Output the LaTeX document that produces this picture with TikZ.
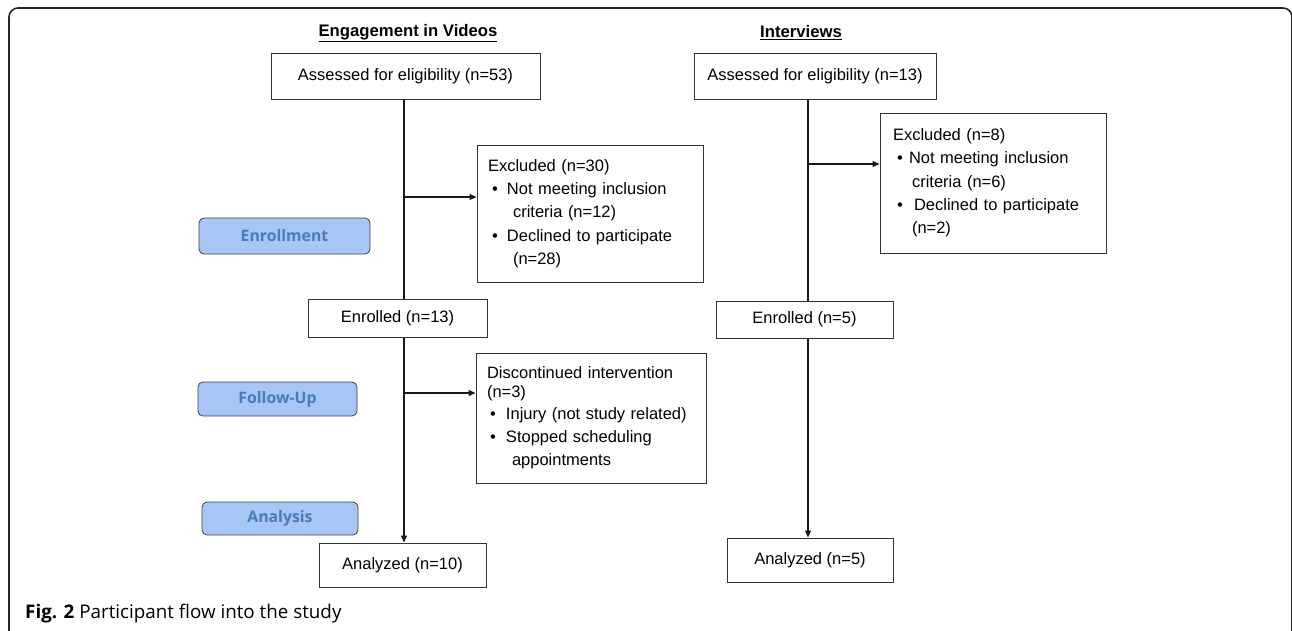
\documentclass[tikz,border=0pt]{standalone}
\usepackage{fontspec}
\setmainfont{Liberation Sans}
\newfontfamily\capfont{Open Sans}
\usetikzlibrary{arrows.meta,calc}
\definecolor{btnfill}{HTML}{A6C6F6}
\definecolor{btntext}{HTML}{4A7DB8}
\definecolor{edge}{HTML}{333333}
\newcommand\fs{\fontsize{16.5}{23.3}\selectfont}
\newcommand\bul[2]{\hspace*{#1pt}\makebox[#2pt][l]{\textbullet}}
\begin{document}
\begin{tikzpicture}[x=1pt,y=-1pt,
  box/.style={draw=edge, line width=1pt, inner sep=0pt, font=\fs},
  tbox/.style={box, align=left},
  btn/.style={draw=black!75, fill=btnfill, rounded corners=5pt, line width=0.8pt,
    text=btntext, font=\capfont\bfseries\fontsize{15.8}{18}\selectfont, inner sep=0pt},
  ttl/.style={font=\bfseries\fontsize{16.7}{20}\selectfont, inner sep=0pt},
  conn/.style={line width=1.2pt, draw=black!90},
  arr/.style={conn, -{Triangle[length=7pt,width=6pt]}}]
\useasboundingbox (0,0) rectangle (1292,630);
\begin{scope}
\clip (0,0) rectangle (1292,630);
\draw[line width=1.6pt, draw=black!85, rounded corners=9pt] (9,8) rectangle (1292,640);
\end{scope}

% titles
\node[ttl] (t1) at (408,33) {\underline{Engagement in Videos}};
\node[ttl] (t2) at (801,33) {\underline{Interviews}};

% left column
\node[box, minimum width=269pt, minimum height=46pt] (A1) at (405.5,76) {Assessed for eligibility (n=53)};
\node[tbox, minimum width=226pt, minimum height=137pt, text width=204pt] (X1) at (590,213.5)
 {Excluded (n=30)\\
  \bul{4}{15}Not meeting inclusion\\
  \hspace*{25pt}criteria (n=12)\\
  \bul{4}{15}Declined to participate\\
  \hspace*{25pt}(n=28)};
\node[box, minimum width=179pt, minimum height=38pt] (E1) at (397.5,318) {Enrolled (n=13)};
\node[tbox, minimum width=230pt, minimum height=130pt, text width=208pt] (D1) at (591,418)
 {Discontinued intervention\\[-4pt]
  (n=3)\\[-2pt]
  \bul{3}{16}Injury (not study related)\\
  \bul{3}{16}Stopped scheduling\\
  \hspace*{25pt}appointments};
\node[box, minimum width=167pt, minimum height=44pt] (N1) at (402.5,565) {Analyzed (n=10)};

% right column
\node[box, minimum width=242pt, minimum height=46pt] (A2) at (815,76) {Assessed for eligibility (n=13)};
\node[tbox, minimum width=226pt, minimum height=140pt, text width=200pt] (X2) at (993,183)
 {Excluded (n=8)\\
  \bul{4}{12}Not meeting inclusion\\
  \hspace*{19pt}criteria (n=6)\\
  \bul{4}{17}Declined to participate\\
  \hspace*{19pt}(n=2)};
\node[box, minimum width=177pt, minimum height=37pt] (E2) at (804.5,319.5) {Enrolled (n=5)};
\node[box, minimum width=166pt, minimum height=44pt] (N2) at (810,560) {Analyzed (n=5)};

% phase buttons
\node[btn, minimum width=171pt, minimum height=36pt] (en) at (284.5,236) {Enrollment};
\node[btn, minimum width=159pt, minimum height=34pt] (fu) at (277.5,399) {Follow-Up};
\node[btn, minimum width=156pt, minimum height=33pt] (an) at (280,518.5) {Analysis};

% connectors
\coordinate (c1) at (404,197);
\coordinate (c3) at (404,393);
\coordinate (c2) at (808,164);
\draw[conn] (A1.south -| c1) -- (E1.north -| c1);
\draw[arr] (c1) -- (X1.west |- c1);
\draw[arr] (E1.south -| c1) -- (N1.north -| c1);
\draw[arr] (c3) -- (D1.west |- c3);
\draw[conn] (A2.south -| c2) -- (E2.north -| c2);
\draw[arr] (c2) -- (X2.west |- c2);
\draw[arr] (E2.south -| c2) -- (N2.north -| c2);

% caption
\node[anchor=base west, inner sep=0pt, font=\capfont\fontsize{18.8}{22}\selectfont] (cap) at (25,618)
 {\textbf{Fig. 2} Participant flow into the study};
\end{tikzpicture}
\end{document}
